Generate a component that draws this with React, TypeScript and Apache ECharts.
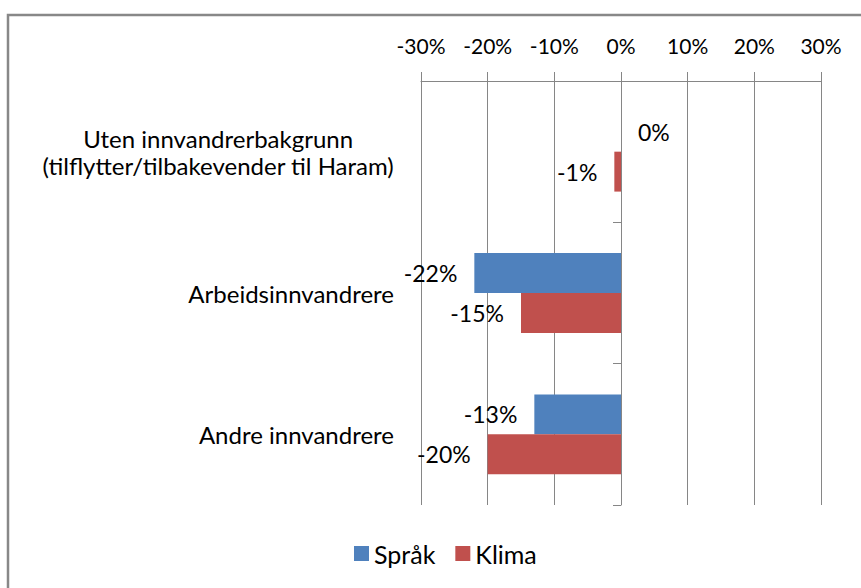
import React, { useEffect, useRef } from "react";
import * as echarts from "echarts";

const categories = [
  "Uten innvandrerbakgrunn\n(tilflytter/tilbakevender til Haram)",
  "Arbeidsinnvandrere",
  "Andre innvandrere",
];
const seriesNames = ["Språk", "Klima"];
const spraak = [0, -22, -13];
const klima = [-1, -15, -20];
const xTicks = { min: -30, max: 30, interval: 10 };

const FONT = "Lato";
const GREY = "#868686";

export default function App() {
  const ref = useRef<HTMLDivElement>(null);
  useEffect(() => {
    if (!ref.current) return;
    const chart = echarts.init(ref.current, undefined, { renderer: "svg" });
    const toItems = (arr: number[]) =>
      arr.map((v) => ({ value: v, label: { position: v < 0 ? "left" : "right" } }));
    const labelCfg = {
      show: true,
      distance: 17,
      formatter: (p: any) => `${p.value}%`,
      fontFamily: FONT,
      fontSize: 23,
      color: "#000",
    };
    chart.setOption({
      animation: false,
      textStyle: { fontFamily: FONT },
      graphic: [
        {
          type: "rect",
          shape: { x: 8, y: 15, width: 1000, height: 1000 },
          style: { fill: "none", stroke: "#888", lineWidth: 2.5 },
          silent: true,
        },
      ],
      grid: { left: 421, right: 40, top: 81, bottom: 83, containLabel: false },
      legend: {
        data: seriesNames,
        left: 354,
        top: 541,
        padding: 0,
        icon: "rect",
        itemWidth: 15,
        itemHeight: 15,
        itemGap: 20,
        textStyle: { fontFamily: FONT, fontSize: 25, color: "#000" },
      },
      xAxis: {
        type: "value",
        position: "top",
        min: xTicks.min,
        max: xTicks.max,
        interval: xTicks.interval,
        axisLine: { show: true, lineStyle: { color: GREY, width: 1 } },
        axisTick: { show: true, length: 9, lineStyle: { color: GREY } },
        splitLine: { show: true, lineStyle: { color: GREY, width: 1 } },
        axisLabel: {
          formatter: "{value}%",
          margin: 25,
          fontFamily: FONT,
          fontSize: 21,
          color: "#000",
        },
      },
      yAxis: [
        {
          type: "category",
          data: categories,
          inverse: true,
          position: "left",
          axisLine: { show: false, onZero: false },
          axisTick: { show: false },
          axisLabel: {
            margin: 27,
            fontFamily: FONT,
            fontSize: 24,
            lineHeight: 27,
            color: "#000",
            align: "right",
            formatter: (v: string) =>
              v.includes("\n")
                ? v
                    .split("\n")
                    .map((l) => `{c|${l}}`)
                    .join("\n")
                : v,
            rich: {
              c: {
                align: "center",
                fontFamily: FONT,
                fontSize: 24,
                lineHeight: 27,
                color: "#000",
              },
            },
          },
        },
        {
          type: "category",
          data: categories,
          inverse: true,
          position: "left",
          axisLine: { show: true, onZero: true, lineStyle: { color: GREY, width: 1 } },
          axisTick: { show: true, length: 8, lineStyle: { color: GREY } },
          axisLabel: { show: false },
          splitLine: { show: false },
        },
      ],
      series: [
        {
          name: seriesNames[0],
          type: "bar",
          yAxisIndex: 0,
          data: toItems(spraak),
          itemStyle: { color: "#4F81BD" },
          barGap: "0%",
          barCategoryGap: "43.5%",
          label: labelCfg,
        },
        {
          name: seriesNames[1],
          type: "bar",
          yAxisIndex: 0,
          data: toItems(klima),
          itemStyle: { color: "#C0504D" },
          barGap: "0%",
          barCategoryGap: "43.5%",
          label: labelCfg,
        },
      ],
    });
    return () => chart.dispose();
  }, []);
  return (
    <div
      ref={ref}
      style={{ position: "absolute", left: 0, top: 0, width: 861, height: 588, background: "#fff" }}
    />
  );
}
